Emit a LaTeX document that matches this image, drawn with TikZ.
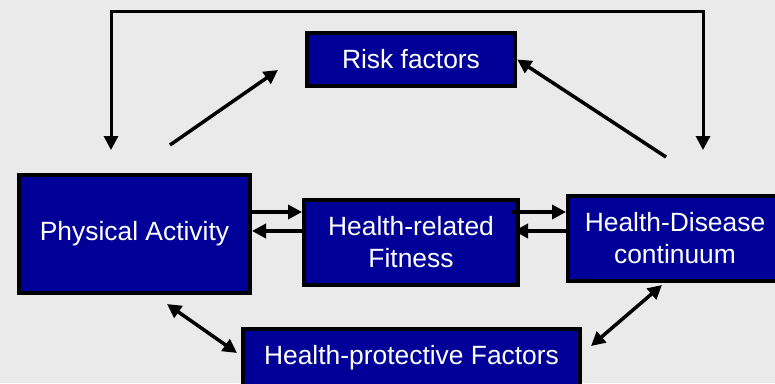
\documentclass[tikz,border=0pt]{standalone}
\usepackage{fontspec}
\setmainfont{Liberation Sans}
\usetikzlibrary{arrows.meta}
\definecolor{bg}{HTML}{EAEAEA}
\definecolor{boxblue}{HTML}{000099}
\begin{document}
\begin{tikzpicture}[x=1pt,y=-1pt,
  box/.style={draw=black, line width=4pt, fill=boxblue, text=white, inner sep=0pt,
              align=center, font=\fontsize{26.4}{32}\selectfont},
  arr/.style={line width=3.5pt, -{Triangle[length=14pt,width=14pt]}},
  dbl/.style={line width=3.5pt, {Triangle[length=14pt,width=14pt]}-{Triangle[length=14pt,width=14pt]}}]
% background
\fill[bg] (0,0) rectangle (775,383);
\clip (0,0) rectangle (775,383);

% boxes
\node[box, minimum width=208.5pt, minimum height=53pt] (rf)  at (411,59.5)  {Risk factors};
\node[box, minimum width=231pt,   minimum height=118pt] (pa) at (134.5,234) {Physical Activity};
\node[box, minimum width=214pt,   minimum height=85pt] (hrf) at (411,242.5) {Health-related\\Fitness};
\node[box, minimum width=214pt,   minimum height=85pt] (hdc) at (675,238.5) {Health-Disease\\continuum};
\node[box, minimum width=337pt,   minimum height=57pt] (hpf) at (411.5,357.5) {Health-protective Factors};

% feedback loop across the top
\coordinate (la) at (111,150);
\coordinate (lt) at (111,11);
\coordinate (rt) at (703,11);
\coordinate (ra) at (703,150);
\draw[dbl, line width=3pt, line join=miter] (la) -- (lt) -- (rt) -- (ra);

% influences on risk factors
\coordinate (pastart) at (170,145);
\coordinate (paend) at (278,70);
\draw[arr] (pastart) -- (paend);
\coordinate (hdcstart) at (666,157);
\draw[arr] (hdcstart) -- (rf.east);

% paired arrows between the middle row
\coordinate (u1) at ([yshift=30.5pt]hrf.west);
\coordinate (l1) at ([yshift=11.5pt]hrf.west);
\draw[arr] (pa.east |- u1) -- (u1);
\draw[arr] (l1) -- (pa.east |- l1);
\coordinate (u2) at ([yshift=26.5pt]hdc.west);
\coordinate (l2) at ([yshift=7.5pt]hdc.west);
\draw[arr] ([xshift=-8pt]hrf.east |- u2) -- (u2);
\draw[arr] (l2) -- ([xshift=-6pt]hrf.east |- l2);

% health-protective factors
\coordinate (pab) at (167,304);
\coordinate (hpfl) at (237,353);
\draw[dbl] (pab) -- (hpfl);
\coordinate (hdcb) at (662,285);
\coordinate (hpfr) at (591,346);
\draw[dbl] (hdcb) -- (hpfr);
\end{tikzpicture}
\end{document}
